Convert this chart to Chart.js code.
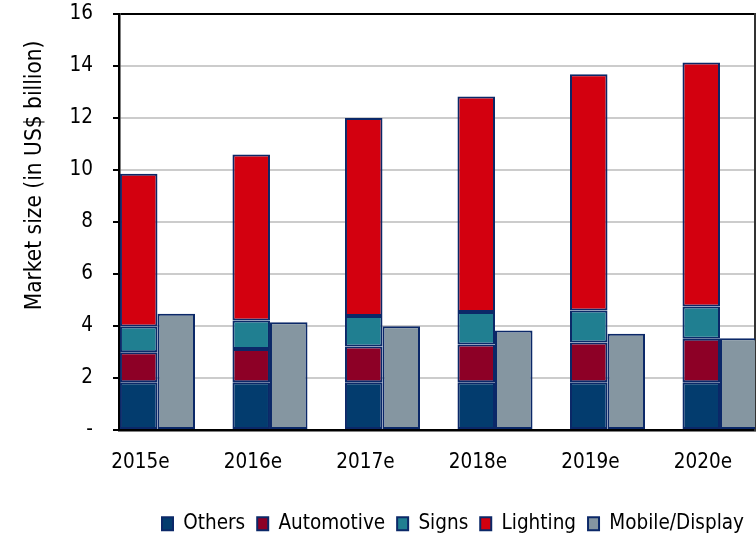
<!DOCTYPE html>
<html>
<head>
<meta charset="utf-8">
<script src="https://cdn.jsdelivr.net/npm/chart.js@4/dist/chart.umd.min.js"></script>
<style>
html,body{margin:0;padding:0;background:#fff;overflow:hidden;}
#wrap{width:756px;height:539px;position:relative;overflow:hidden;}
</style>
</head>
<body>
<div id="wrap"><canvas id="c" width="756" height="544"></canvas></div>
<script>
const categories = ["2015e","2016e","2017e","2018e","2019e","2020e"];
const others      = [1.84, 1.84, 1.84, 1.84, 1.84, 1.84];
const automotive  = [1.15, 1.28, 1.37, 1.45, 1.53, 1.67];
const signs       = [0.99, 1.09, 1.17, 1.25, 1.23, 1.24];
const lighting    = [5.88, 6.39, 7.62, 8.29, 9.08, 9.38];
const mobile      = [4.47, 4.14, 3.99, 3.83, 3.70, 3.53];
const yTicks = [0,2,4,6,8,10,12,14,16];
const yTitle = "Market size (in US$ billion)";

const FONT = "'DejaVu Sans Condensed',Tahoma,'DejaVu Sans',sans-serif";
const EDGE = "#0b2868";

function pts(arr){ return arr.map((v,i)=>({x:i, y:v})); }
function ds(label, arr, color, stack){
  return {label, data: pts(arr), backgroundColor: color, borderColor: EDGE,
    borderWidth: 2, borderSkipped: false, stack,
    categoryPercentage: 0.667, barPercentage: 1.0};
}

const titlePlugin = {
  id: 'ytitle',
  afterDraw(chart){
    const ca = chart.chartArea, ctx = chart.ctx;
    ctx.save();
    ctx.font = "22.5px " + FONT;
    ctx.fillStyle = "#000";
    ctx.textAlign = "center";
    ctx.textBaseline = "middle";
    ctx.translate(35, ca.top + (ca.bottom - ca.top) * 0.388);
    ctx.rotate(-Math.PI/2);
    ctx.fillText(yTitle, 0, 0);
    ctx.restore();
  }
};

new Chart(document.getElementById('c'), {
  type: 'bar',
  data: {
    datasets: [
      ds("Others", others, "#033c6e", "a"),
      ds("Automotive", automotive, "#8d0026", "a"),
      ds("Signs", signs, "#207f91", "a"),
      ds("Lighting", lighting, "#d3000f", "a"),
      ds("Mobile/Display", mobile, "#8596a1", "b")
    ]
  },
  options: {
    responsive: false,
    animation: false,
    layout: {padding: {top: 14, left: 0, right: 0, bottom: 0}},
    plugins: {
      legend: {
        position: 'bottom',
        align: 'end',
        labels: {
          font: {size: 20.5, family: FONT},
          color: "#000",
          boxWidth: 11, boxHeight: 13,
          padding: 12
        }
      },
      tooltip: {enabled: false}
    },
    scales: {
      x: {
        type: 'linear',
        offset: false,
        min: -0.342, max: 5.311,
        grid: {display: false, offset: false},
        border: {display: true, color: "#000", width: 2.5},
        afterBuildTicks: s => { s.ticks = categories.map((c,i)=>({value:i})); },
        afterFit: s => { s.height = 71.5; s.paddingLeft = 0; s.paddingRight = 0; },
        ticks: {
          callback: v => categories[v],
          font: {size: 20.5, family: FONT},
          color: "#000",
          padding: 12,
          labelOffset: -17,
          maxRotation: 0,
          autoSkip: false
        }
      },
      y: {
        min: 0, max: 16,
        stacked: true,
        afterBuildTicks: s => { s.ticks = yTicks.map(v=>({value:v})); },
        afterFit: s => { s.width = 119; s.paddingTop = 0; s.paddingBottom = 0; },
        grid: {
          color: c => c.tick && c.tick.value === 16 ? "#000" : "#cccccc",
          lineWidth: 2,
          tickColor: "#000",
          tickLength: 6
        },
        border: {display: true, color: "#000", width: 2.5},
        ticks: {
          callback: v => v === 0 ? "-" : String(v),
          font: {size: 20.5, family: FONT},
          color: "#000",
          padding: 20
        }
      },
      y2: {
        position: 'right',
        display: true,
        grid: {display: false},
        ticks: {display: false},
        border: {display: true, color: "#333", width: 2},
        afterFit: s => { s.width = 1; s.paddingTop = 0; s.paddingBottom = 0; }
      }
    }
  },
  plugins: [titlePlugin]
});
</script>
</body>
</html>
